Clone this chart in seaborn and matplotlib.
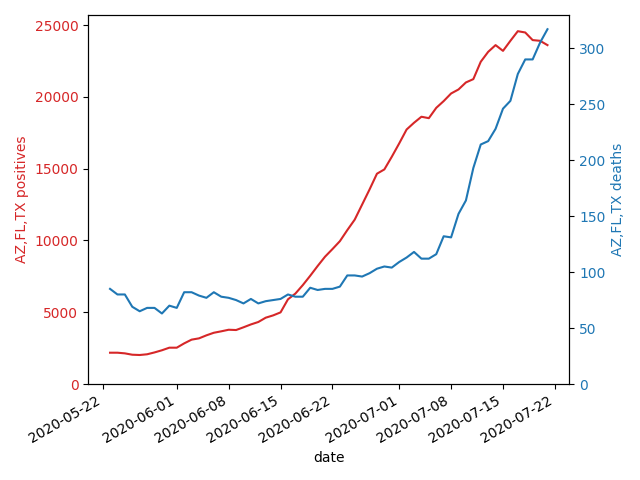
import matplotlib
matplotlib.use("Agg")
import matplotlib.pyplot as plt
import seaborn as sns
import pandas as pd

dates = pd.date_range("2020-05-23", periods=60, freq="D")
positives = [2180, 2180, 2135, 2040, 2020, 2070, 2200, 2350, 2530, 2530,
             2830, 3090, 3180, 3390, 3570, 3670, 3780, 3760, 3950, 4150,
             4320, 4620, 4780, 4990, 5900, 6300, 6890, 7540, 8220, 8870,
             9400, 9950, 10720, 11450, 12500, 13550, 14650, 14950, 15830, 16760,
             17730, 18200, 18620, 18520, 19240, 19710, 20240, 20520, 21010, 21240,
             22450, 23140, 23610, 23210, 23910, 24580, 24490, 23960, 23910, 23610]
deaths = [85, 80, 80, 69, 65, 68, 68, 63, 70, 68,
          82, 82, 79, 77, 82, 78, 77, 75, 72, 76,
          72, 74, 75, 76, 80, 78, 78, 86, 84, 85,
          85, 87, 97, 97, 96, 99, 103, 105, 104, 109,
          113, 118, 112, 112, 116, 132, 131, 152, 164, 193,
          214, 217, 228, 246, 253, 277, 290, 290, 305, 317]

df = pd.DataFrame({"date": dates, "positives": positives, "deaths": deaths})

fig, ax1 = plt.subplots(figsize=(6.4, 4.8), dpi=100)
red = "tab:red"
blue = "tab:blue"
sns.lineplot(data=df, x="date", y="positives", ax=ax1, color=red)
ax1.set_ylabel("AZ,FL,TX positives", color=red)
ax1.tick_params(axis="y", labelcolor=red)
ax1.set_ylim(bottom=0)

ax2 = ax1.twinx()
sns.lineplot(data=df, x="date", y="deaths", ax=ax2, color=blue)
ax2.set_ylabel("AZ,FL,TX deaths", color=blue)
ax2.tick_params(axis="y", labelcolor=blue)
ax2.set_ylim(bottom=0)
ax1.set_xlabel("date")

fig.tight_layout()
fig.autofmt_xdate()
fig.savefig("out.png", dpi=100)
